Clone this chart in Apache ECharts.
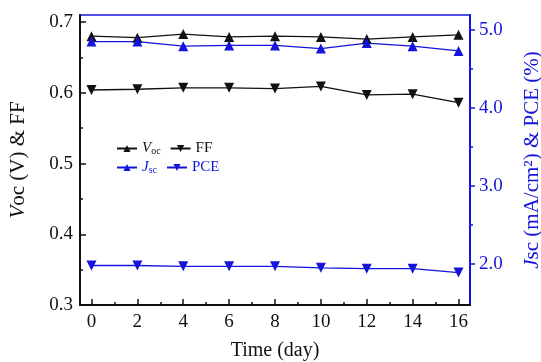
<!DOCTYPE html>
<html>
<head>
<meta charset="utf-8">
<script src="https://cdn.jsdelivr.net/npm/echarts@6/dist/echarts.min.js"></script>
<style>
  html, body { margin: 0; padding: 0; background: #fff; }
  #chart { width: 541px; height: 362px; }
</style>
</head>
<body>
<div id="chart"></div>
<script>
// days on the x axis
const days = [0, 2, 4, 6, 8, 10, 12, 14, 16];
// left axis series
const voc = [0.680, 0.678, 0.683, 0.679, 0.680, 0.679, 0.676, 0.679, 0.682];
const ff = [0.604, 0.605, 0.607, 0.607, 0.606, 0.609, 0.597, 0.598, 0.586];
// right axis series
const jsc = [4.85, 4.85, 4.79, 4.80, 4.80, 4.76, 4.83, 4.79, 4.73];
const pce = [1.98, 1.98, 1.97, 1.97, 1.97, 1.95, 1.94, 1.94, 1.89];
// tick labels
const xLabels = [0, 2, 4, 6, 8, 10, 12, 14, 16];
const xMinor = [1, 3, 5, 7, 9, 11, 13, 15];
const leftLabels = [0.3, 0.4, 0.5, 0.6, 0.7];
const leftMinor = [0.35, 0.45, 0.55, 0.65];
const rightLabels = [2, 3, 4, 5];
const rightMinor = [2.5, 3.5, 4.5];

const BLACK = '#111111';
const BLUE = '#1414dc';
const FONT = '"Liberation Serif", "DejaVu Serif", serif';

const pair = (xs, ys) => xs.map((x, i) => [x, ys[i]]);

const myChart = echarts.init(document.getElementById('chart'));

const legendRich = {
  n: { fontFamily: FONT, fontSize: 15, color: BLACK },
  nb: { fontFamily: FONT, fontSize: 15, color: BLUE },
  i: { fontFamily: FONT, fontSize: 15, fontStyle: 'italic', color: BLACK },
  ib: { fontFamily: FONT, fontSize: 15, fontStyle: 'italic', color: BLUE },
  s: { fontFamily: FONT, fontSize: 10, color: BLACK, padding: [6, 0, 0, 0] },
  sb: { fontFamily: FONT, fontSize: 10, color: BLUE, padding: [6, 0, 0, 0] }
};
const legendFormat = (name) => {
  if (name === 'Voc') return '{i|V}{s|oc}';
  if (name === 'Jsc') return '{ib|J}{sb|sc}';
  if (name === 'PCE') return '{nb|PCE}';
  return '{n|' + name + '}';
};
const legendBase = {
  left: 111,
  itemWidth: 20,
  itemHeight: 9,
  itemGap: 9,
  formatter: legendFormat,
  textStyle: { rich: legendRich, width: 22 }
};

const minorAxis = {
  axisLine: { show: false, onZero: false },
  axisLabel: { show: false },
  splitLine: { show: false }
};

myChart.setOption({
  animation: false,
  backgroundColor: '#fff',
  grid: {
    left: 80,
    right: 71,
    top: 15,
    bottom: 57,
    outerBoundsMode: 'none',
    containLabel: false,
    show: true,
    borderColor: BLUE,
    borderWidth: 1.5,
    backgroundColor: 'transparent'
  },
  legend: [
    Object.assign({}, legendBase, { top: 136, data: ['Voc', 'FF'] }),
    Object.assign({}, legendBase, { top: 155, data: ['Jsc', 'PCE'] })
  ],
  xAxis: [
    {
      type: 'value',
      min: -0.5,
      max: 16.5,
      position: 'bottom',
      name: 'Time (day)',
      nameLocation: 'middle',
      nameGap: 36,
      nameTextStyle: { fontFamily: FONT, fontSize: 20, color: BLACK },
      axisLine: { onZero: false, lineStyle: { color: BLACK, width: 2 } },
      axisTick: { inside: true, length: 6, customValues: xLabels, lineStyle: { color: BLACK, width: 1.5 } },
      axisLabel: { customValues: xLabels, margin: 8, fontFamily: FONT, fontSize: 19, color: BLACK },
      splitLine: { show: false }
    },
    Object.assign({
      type: 'value',
      min: -0.5,
      max: 16.5,
      position: 'bottom',
      axisTick: { inside: true, length: 3, customValues: xMinor, lineStyle: { color: BLACK, width: 1.5 } }
    }, minorAxis)
  ],
  yAxis: [
    {
      type: 'value',
      min: 0.3,
      max: 0.71,
      position: 'left',
      name: '{i|V}oc (V) & FF',
      nameLocation: 'middle',
      nameRotate: 90,
      nameGap: 51,
      nameTextStyle: {
        fontFamily: FONT, fontSize: 21, color: BLACK,
        rich: { i: { fontFamily: FONT, fontSize: 21, fontStyle: 'italic', color: BLACK } }
      },
      axisLine: { show: true, onZero: false, lineStyle: { color: BLACK, width: 2 } },
      axisTick: { show: true, inside: true, length: 6, customValues: leftLabels, lineStyle: { color: BLACK, width: 1.5 } },
      axisLabel: {
        customValues: leftLabels, margin: 7, fontFamily: FONT, fontSize: 19, color: BLACK,
        formatter: (v) => v.toFixed(1)
      },
      splitLine: { show: false }
    },
    {
      type: 'value',
      min: 1.474,
      max: 5.19,
      position: 'right',
      name: '{i|J}sc (mA/cm²) & PCE (%)',
      nameLocation: 'middle',
      nameRotate: 90,
      nameGap: 52,
      nameTextStyle: {
        fontFamily: FONT, fontSize: 21, color: BLUE,
        rich: { i: { fontFamily: FONT, fontSize: 21, fontStyle: 'italic', color: BLUE } }
      },
      axisLine: { show: true, onZero: false, lineStyle: { color: BLUE, width: 2 } },
      axisTick: { show: true, inside: false, length: 5, customValues: rightLabels, lineStyle: { color: BLUE, width: 1.5 } },
      axisLabel: {
        customValues: rightLabels, margin: 9, fontFamily: FONT, fontSize: 19, color: BLUE,
        formatter: (v) => v.toFixed(1)
      },
      splitLine: { show: false }
    },
    Object.assign({
      type: 'value',
      min: 0.3,
      max: 0.71,
      position: 'left',
      axisTick: { show: true, inside: true, length: 3, customValues: leftMinor, lineStyle: { color: BLACK, width: 1.5 } }
    }, minorAxis),
    Object.assign({
      type: 'value',
      min: 1.474,
      max: 5.19,
      position: 'right',
      axisTick: { show: true, inside: false, length: 3, customValues: rightMinor, lineStyle: { color: BLUE, width: 1.5 } }
    }, minorAxis)
  ],
  series: [
    {
      name: 'Voc', type: 'line', yAxisIndex: 0,
      data: pair(days, voc),
      symbol: 'triangle', symbolSize: 10,
      lineStyle: { color: BLACK, width: 1.3 },
      itemStyle: { color: BLACK }
    },
    {
      name: 'FF', type: 'line', yAxisIndex: 0,
      data: pair(days, ff),
      symbol: 'triangle', symbolRotate: 180, symbolSize: 10,
      lineStyle: { color: BLACK, width: 1.3 },
      itemStyle: { color: BLACK }
    },
    {
      name: 'Jsc', type: 'line', yAxisIndex: 1,
      data: pair(days, jsc),
      symbol: 'triangle', symbolSize: 10,
      lineStyle: { color: BLUE, width: 1.3 },
      itemStyle: { color: BLUE }
    },
    {
      name: 'PCE', type: 'line', yAxisIndex: 1,
      data: pair(days, pce),
      symbol: 'triangle', symbolRotate: 180, symbolSize: 10,
      lineStyle: { color: BLUE, width: 1.3 },
      itemStyle: { color: BLUE }
    }
  ]
});
</script>
</body>
</html>
